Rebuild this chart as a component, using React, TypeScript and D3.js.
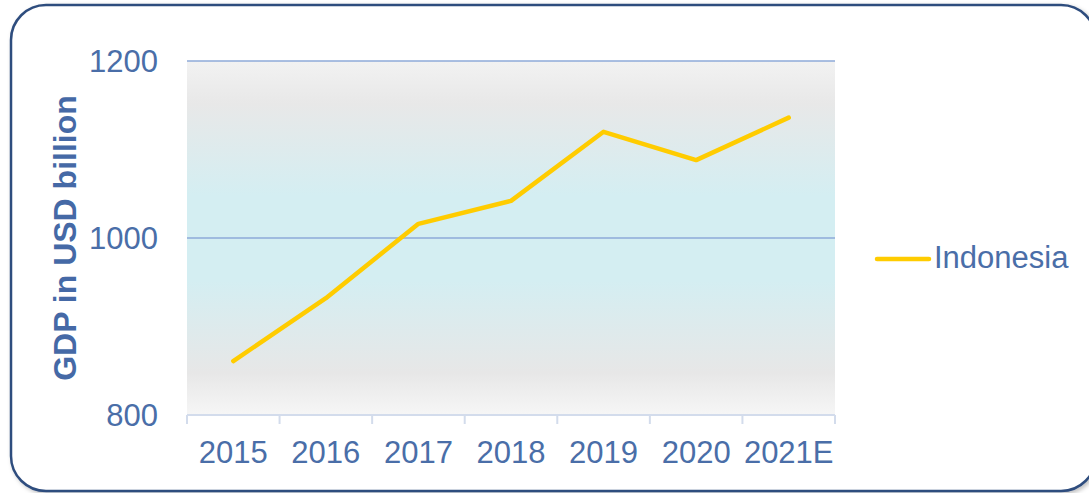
import React from "react";
import * as d3 from "d3";

const categories = ["2015", "2016", "2017", "2018", "2019", "2020", "2021E"];
const gdpIndonesia = [861, 932, 1016, 1042, 1120, 1088, 1136];
const yTicks = [800, 1000, 1200];
const seriesName = "Indonesia";
const yAxisTitle = "GDP in USD billion";

const W = 1089;
const H = 493;
const plot = { left: 187, right: 835, top: 61, bottom: 415 };
const textColor = "#4a6ea8";
const font = "'Liberation Sans', Arial, sans-serif";

export default function App() {
  const x = d3.scaleBand<string>().domain(categories).range([plot.left, plot.right]).padding(0);
  const y = d3.scaleLinear().domain([800, 1200]).range([plot.bottom, plot.top]);
  const line = d3
    .line<number>()
    .x((_, i) => (x(categories[i]) as number) + x.bandwidth() / 2)
    .y((d) => y(d));
  const tickXs = [...categories.map((c) => x(c) as number), plot.right];

  return (
    <svg
      width={W}
      height={H}
      style={{ position: "absolute", left: 0, top: 0, display: "block" }}
      fontFamily={font}
    >
      <defs>
        <linearGradient id="bg" x1="0" y1="0" x2="0" y2="1">
          <stop offset="0%" stopColor="#f2f2f2" />
          <stop offset="12%" stopColor="#e8e8e8" />
          <stop offset="38%" stopColor="#d4eef2" />
          <stop offset="62%" stopColor="#d4eef2" />
          <stop offset="88%" stopColor="#e7e7e7" />
          <stop offset="100%" stopColor="#f6f6f6" />
        </linearGradient>
        <filter id="sh" x="-5%" y="-5%" width="110%" height="115%">
          <feDropShadow dx="2" dy="2" stdDeviation="2" floodColor="#000" floodOpacity="0.25" />
        </filter>
      </defs>
      <rect
        x={11}
        y={5}
        width={1085}
        height={486}
        rx={35}
        ry={35}
        fill="#ffffff"
        stroke="#2f4d7e"
        strokeWidth={2.5}
        filter="url(#sh)"
      />
      <rect
        x={plot.left}
        y={plot.top}
        width={plot.right - plot.left}
        height={plot.bottom - plot.top}
        fill="url(#bg)"
      />
      {yTicks
        .filter((t) => t !== 800)
        .map((t) => (
          <line
            key={t}
            x1={plot.left}
            x2={plot.right}
            y1={y(t)}
            y2={y(t)}
            stroke="#8eaad8"
            strokeWidth={1.5}
          />
        ))}
      <line x1={plot.left} x2={plot.right} y1={plot.bottom} y2={plot.bottom} stroke="#d3dcec" strokeWidth={2} />
      {tickXs.map((tx, i) => (
        <line key={i} x1={tx} x2={tx} y1={plot.bottom} y2={plot.bottom + 9} stroke="#d3dcec" strokeWidth={2} />
      ))}
      {yTicks.map((t) => (
        <text
          key={t}
          x={158}
          y={y(t)}
          dy="0.36em"
          textAnchor="end"
          fontSize={31}
          fill={textColor}
        >
          {t}
        </text>
      ))}
      {categories.map((c) => {
        const cx = (x(c) as number) + x.bandwidth() / 2;
        return (
          <text key={c} x={cx} y={463} textAnchor="middle" fontSize={31} fill={textColor}>
            {c}
          </text>
        );
      })}
      <text
        transform={`translate(76,238) rotate(-90)`}
        textAnchor="middle"
        fontSize={32}
        fontWeight="bold"
        fill="#4569a6"
      >
        {yAxisTitle}
      </text>
      <path
        d={line(gdpIndonesia) || ""}
        fill="none"
        stroke="#ffcc00"
        strokeWidth={4.5}
        strokeLinecap="round"
        strokeLinejoin="round"
      />
      <line x1={877} x2={929} y1={259} y2={259} stroke="#ffcc00" strokeWidth={4.5} strokeLinecap="round" />
      <text x={934} y={268} fontSize={31} fill={textColor}>
        {seriesName}
      </text>
    </svg>
  );
}
